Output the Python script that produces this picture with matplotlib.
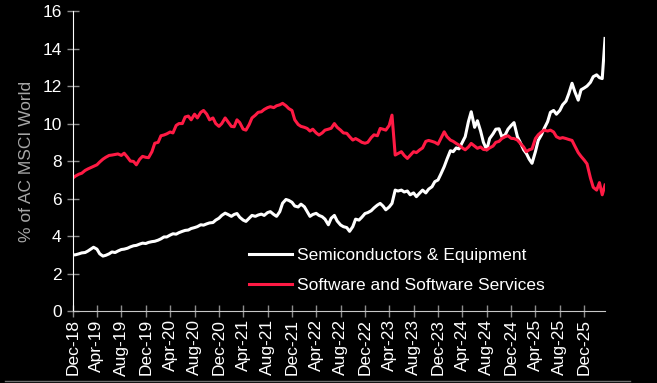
import pandas as pd
import matplotlib
matplotlib.use('Agg')
import matplotlib.pyplot as plt
import matplotlib.dates as mdates
from matplotlib.lines import Line2D

# share of AC MSCI World (%) at half-month steps from Dec-18
semis = [
    2.99, 3.0, 3.05, 3.1, 3.12, 3.2, 3.3, 3.4, 3.3, 3.05, 2.93, 2.97,
    3.05, 3.15, 3.12, 3.2, 3.28, 3.3, 3.35, 3.42, 3.48, 3.5, 3.57, 3.62,
    3.6, 3.66, 3.7, 3.72, 3.78, 3.85, 3.95, 3.95, 4.05, 4.12, 4.1, 4.18,
    4.25, 4.3, 4.32, 4.4, 4.45, 4.5, 4.6, 4.58, 4.65, 4.7, 4.72, 4.85,
    4.95, 5.1, 5.22, 5.15, 5.05, 5.15, 5.2, 5.0, 4.85, 4.78, 4.95, 5.1,
    5.05, 5.12, 5.17, 5.1, 5.25, 5.3, 5.15, 5.05, 5.3, 5.75, 5.95, 5.9,
    5.8, 5.6, 5.55, 5.7, 5.56, 5.3, 5.05, 5.15, 5.21, 5.1, 5.03, 4.9,
    4.6, 4.95, 5.1, 4.8, 4.59, 4.5, 4.45, 4.25, 4.5, 4.9, 4.85, 5.0,
    5.2, 5.25, 5.35, 5.5, 5.65, 5.74, 5.6, 5.4, 5.55, 5.74, 6.45, 6.4,
    6.45, 6.35, 6.4, 6.2, 6.3, 6.1, 6.3, 6.45, 6.3, 6.5, 6.63, 6.9,
    6.99, 7.3, 7.7, 8.1, 8.55, 8.5, 8.7, 8.65, 9.0, 9.3, 10.1, 10.63,
    9.8, 10.15, 9.6, 9.0, 8.6, 9.2, 9.45, 9.7, 9.72, 9.3, 9.4, 9.7,
    9.9, 10.05, 9.3, 9.0, 8.6, 8.4, 8.1, 7.88, 8.5, 9.1, 9.4, 9.74,
    10.1, 10.6, 10.7, 10.5, 10.7, 11.0, 11.2, 11.6, 12.15, 11.7, 11.25, 11.8,
    11.9, 12.0, 12.2, 12.5, 12.6, 12.45, 12.4, 14.54,
]

software = [
    7.09, 7.2, 7.3, 7.35, 7.5, 7.58, 7.65, 7.72, 7.8, 7.95, 8.1, 8.2,
    8.3, 8.32, 8.35, 8.38, 8.3, 8.42, 8.2, 8.0, 7.98, 7.8, 8.1, 8.25,
    8.2, 8.18, 8.5, 8.95, 9.0, 9.35, 9.39, 9.45, 9.55, 9.5, 9.9, 10.0,
    10.0, 10.35, 10.4, 10.2, 10.5, 10.3, 10.6, 10.7, 10.5, 10.2, 10.3, 10.0,
    9.85, 10.0, 10.3, 10.1, 9.85, 9.83, 10.2, 10.05, 9.7, 9.65, 9.95, 10.3,
    10.45, 10.6, 10.63, 10.75, 10.85, 10.9, 10.85, 10.95, 11.0, 11.08, 10.95, 10.8,
    10.7, 10.2, 9.95, 9.85, 9.8, 9.74, 9.6, 9.7, 9.5, 9.39, 9.5, 9.65,
    9.7, 9.75, 10.0, 9.8, 9.65, 9.5, 9.48, 9.3, 9.12, 9.2, 9.1, 9.0,
    8.95, 9.0, 9.25, 9.4, 9.35, 9.74, 9.7, 9.65, 9.9, 10.45, 8.32, 8.4,
    8.5, 8.3, 8.14, 8.3, 8.5, 8.45, 8.6, 8.7, 9.05, 9.1, 9.05, 9.0,
    8.9, 9.2, 9.56, 9.3, 9.12, 9.05, 8.94, 8.85, 8.7, 8.6, 8.75, 8.94,
    8.8, 8.68, 8.75, 8.62, 8.6, 8.7, 8.8, 9.0, 9.05, 9.2, 9.3, 9.35,
    9.21, 9.2, 9.12, 8.95, 8.75, 8.5, 8.6, 8.65, 9.2, 9.4, 9.55, 9.65,
    9.6, 9.65, 9.55, 9.3, 9.21, 9.25, 9.2, 9.15, 9.1, 8.8, 8.45, 8.25,
    8.05, 7.85, 7.1, 6.6, 6.45, 6.85, 6.2, 6.72,
]

series_labels = ['Semiconductors & Equipment', 'Software and Software Services']
y_ticks = [0, 2, 4, 6, 8, 10, 12, 14, 16]

dates = pd.date_range('2018-12-01', periods=len(semis), freq='SMS')

BG = 'black'
RED = '#ff1a44'
GREY = '#8c8c8c'
FONT = ['Liberation Sans', 'DejaVu Sans']

plt.rcParams['font.family'] = FONT

fig = plt.figure(figsize=(6.57, 3.83), dpi=100, facecolor=BG)
ax = fig.add_axes([0.1107, 0.188, 0.8102, 0.783], facecolor=BG)

ax.plot(dates, semis, color='white', lw=2.2, label=series_labels[0])
ax.plot(dates, software, color=RED, lw=2.2, label=series_labels[1])

ax.set_xlim(dates[0], dates[-1])
ax.set_ylim(0, 16)
ax.set_yticks(y_ticks)

ax.xaxis.set_major_locator(mdates.MonthLocator(bymonth=[4, 8, 12]))
ax.xaxis.set_major_formatter(mdates.DateFormatter('%b-%y'))

for lab in ax.get_xticklabels():
    lab.set_rotation(90)

ax.tick_params(axis='both', direction='inout', length=8, width=1, color=GREY,
               labelcolor='white', labelsize=12.5)
ax.tick_params(axis='x', pad=2)
ax.tick_params(axis='y', pad=4)

ax.spines['left'].set_color('white')
ax.spines['bottom'].set_color('#c8c8c8')
ax.spines['top'].set_visible(False)
ax.spines['right'].set_visible(False)

ax.set_ylabel('% of AC MSCI World', color='#a6a6a6', fontsize=12.5, labelpad=6)

leg = ax.legend(loc='center left', bbox_to_anchor=(249 / 657, 1 - 270.5 / 383),
                bbox_transform=fig.transFigure, frameon=False, fontsize=12.5,
                handlelength=2.5, handletextpad=0.25, labelspacing=0.85,
                borderpad=0, borderaxespad=0)
for txt in leg.get_texts():
    txt.set_color('white')

# thin frame line at the bottom of the picture
fig.add_artist(Line2D([5 / 657, 630 / 657], [1 - 381 / 383] * 2,
                      transform=fig.transFigure, color='#6e6e6e', lw=1))

fig.savefig('out.png', dpi=100, facecolor=BG)
